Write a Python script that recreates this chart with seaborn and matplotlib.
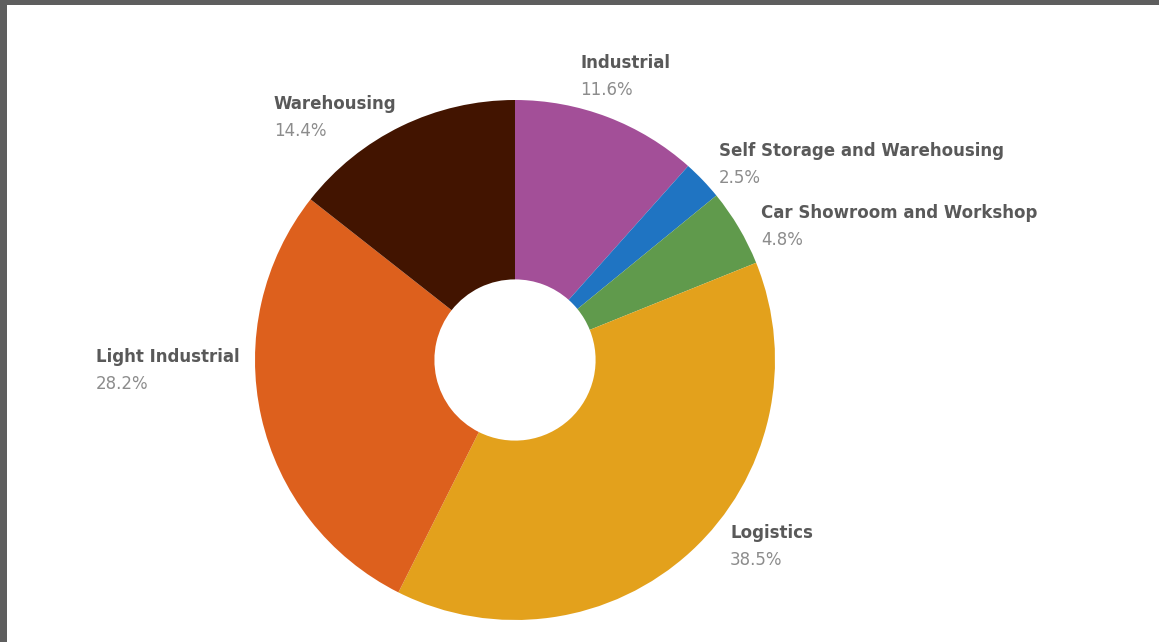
import matplotlib
matplotlib.use("Agg")
import matplotlib.pyplot as plt
from matplotlib.patches import Rectangle
import seaborn as sns

# Share of floor space by property type
categories = [
    "Industrial",
    "Self Storage and Warehousing",
    "Car Showroom and Workshop",
    "Logistics",
    "Light Industrial",
    "Warehousing",
]
shares = [11.6, 2.5, 4.8, 38.5, 28.2, 14.4]
colors = ["#A34F98", "#1F74C2", "#609A4C", "#E3A11C", "#DD601D", "#421400"]

# Label anchor (left edge, name line centre) in figure pixels
label_px = {
    "Industrial": (580, 63),
    "Self Storage and Warehousing": (719, 151),
    "Car Showroom and Workshop": (761, 213),
    "Logistics": (730, 533),
    "Light Industrial": (96, 357),
    "Warehousing": (274, 104),
}

sns.set_theme(style="white")
plt.rcParams["font.family"] = ["DejaVu Sans"]

W, H = 1159, 642
fig = plt.figure(figsize=(W / 100, H / 100), dpi=100)
fig.patch.set_facecolor("white")

# Frame strips along the top and left edge
fig.patches.append(Rectangle((0, 1 - 5 / H), 1, 5 / H, transform=fig.transFigure,
                             facecolor="#5E5E5E", edgecolor="none", zorder=0))
fig.patches.append(Rectangle((0, 0), 7 / W, 1, transform=fig.transFigure,
                             facecolor="#5E5E5E", edgecolor="none", zorder=0))

R = 260
cx, cy = 515, 360
ax = fig.add_axes([(cx - R) / W, (H - cy - R) / H, 2 * R / W, 2 * R / H])
ax.pie(
    shares,
    colors=colors,
    startangle=90,
    counterclock=False,
    radius=1.0,
    wedgeprops=dict(width=0.69, edgecolor="none", linewidth=0),
)
ax.set_xlim(-1, 1)
ax.set_ylim(-1, 1)
ax.set_aspect("equal")
ax.axis("off")

for name, val in zip(categories, shares):
    px, py = label_px[name]
    fig.text(px / W, 1 - py / H, name, ha="left", va="center",
             fontsize=12, fontweight="bold", color="#595959")
    fig.text(px / W, 1 - (py + 27) / H, f"{val:.1f}%", ha="left", va="center",
             fontsize=12, color="#8C8C8C")

fig.savefig("out.png", dpi=100, facecolor="white")
